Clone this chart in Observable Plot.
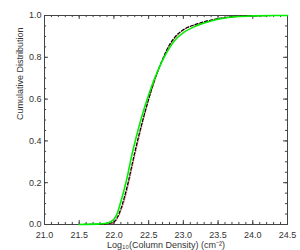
<!DOCTYPE html>
<html><head><meta charset="utf-8">
<script src="https://cdn.jsdelivr.net/npm/d3@7"></script>
<script src="https://cdn.jsdelivr.net/npm/@observablehq/plot@0.6"></script>
<style>body{margin:0;background:#fff}</style>
</head><body><div id="chart"></div>
<script>
const logN = [21.5, 21.8, 21.9, 22.0, 22.05, 22.1, 22.15, 22.2, 22.25, 22.3, 22.35, 22.4, 22.5, 22.6, 22.7, 22.8, 22.9, 23.0, 23.2, 23.4, 23.6, 23.8, 24.0, 24.3, 24.5];
const cdfGreen = [0, 0.003, 0.006, 0.025, 0.055, 0.11, 0.17, 0.24, 0.32, 0.39, 0.455, 0.515, 0.62, 0.71, 0.785, 0.845, 0.89, 0.918, 0.952, 0.974, 0.988, 0.995, 0.998, 1, 1];
const cdfBlack = [0, 0.001, 0.004, 0.012, 0.035, 0.075, 0.13, 0.195, 0.27, 0.345, 0.415, 0.48, 0.6, 0.705, 0.79, 0.86, 0.905, 0.932, 0.96, 0.978, 0.99, 0.996, 0.998, 1, 1];
const cdfRed = [0, 0.001, 0.003, 0.008, 0.028, 0.065, 0.115, 0.18, 0.255, 0.33, 0.4, 0.47, 0.595, 0.7, 0.79, 0.855, 0.9, 0.93, 0.958, 0.977, 0.99, 0.996, 0.998, 1, 1];
const xTicks = [21.0, 21.5, 22.0, 22.5, 23.0, 23.5, 24.0, 24.5];
const yTicks = [0.0, 0.2, 0.4, 0.6, 0.8, 1.0];
const xMinor = d3.range(211, 245).map(d => d / 10);
const yMinor = d3.range(0, 21).map(d => d / 20);

const mk = arr => logN.map((x, i) => ({x, c: arr[i]}));
const xMaj = 0.058, xMin = 0.03, yMaj = 0.019, yMin = 0.01;

const plot = Plot.plot({
  width: 300, height: 250,
  marginLeft: 44, marginRight: 13, marginTop: 15, marginBottom: 26,
  style: {fontFamily: "'Liberation Sans', Arial, sans-serif", fontSize: "9px", color: "#333", background: "#fff"},
  x: {domain: [21, 24.5]},
  y: {domain: [0, 1]},
  marks: [
    Plot.frame({stroke: "#444"}),
    Plot.ruleX(xMinor, {x: d => d, y1: 0, y2: yMin, stroke: "#444"}),
    Plot.ruleX(xMinor, {x: d => d, y1: 1, y2: 1 - yMin, stroke: "#444"}),
    Plot.ruleX(xTicks, {x: d => d, y1: 0, y2: yMaj, stroke: "#444"}),
    Plot.ruleX(xTicks, {x: d => d, y1: 1, y2: 1 - yMaj, stroke: "#444"}),
    Plot.ruleY(yMinor, {y: d => d, x1: 21, x2: 21 + xMin, stroke: "#444"}),
    Plot.ruleY(yMinor, {y: d => d, x1: 24.5, x2: 24.5 - xMin, stroke: "#444"}),
    Plot.ruleY(yTicks, {y: d => d, x1: 21, x2: 21 + xMaj, stroke: "#444"}),
    Plot.ruleY(yTicks, {y: d => d, x1: 24.5, x2: 24.5 - xMaj, stroke: "#444"}),
    Plot.axisX({ticks: xTicks, tickSize: 0, tickPadding: 7, tickFormat: d3.format(".1f"), label: null}),
    Plot.axisY({ticks: yTicks, tickSize: 0, tickPadding: 3, tickFormat: d3.format(".1f"), label: null}),
    Plot.lineY(mk(cdfRed), {x: "x", y: "c", stroke: "#e03030", strokeWidth: 1, strokeDasharray: "1,1.5", curve: "monotone-x"}),
    Plot.lineY(mk(cdfBlack), {x: "x", y: "c", stroke: "#000", strokeWidth: 1.2, strokeDasharray: "3,2", curve: "monotone-x"}),
    Plot.lineY(mk(cdfGreen), {x: "x", y: "c", stroke: "#00ee00", strokeWidth: 1.6, curve: "monotone-x"}),
    Plot.text(["Log₁₀(Column Density) (cm⁻²)"], {frameAnchor: "bottom", dy: 23, text: d => d, fontSize: 9}),
    Plot.text(["Cumulative Distribution"], {frameAnchor: "left", dx: -24, rotate: -90, text: d => d, fontSize: 9})
  ]
});
document.getElementById("chart").appendChild(plot);
</script></body></html>
